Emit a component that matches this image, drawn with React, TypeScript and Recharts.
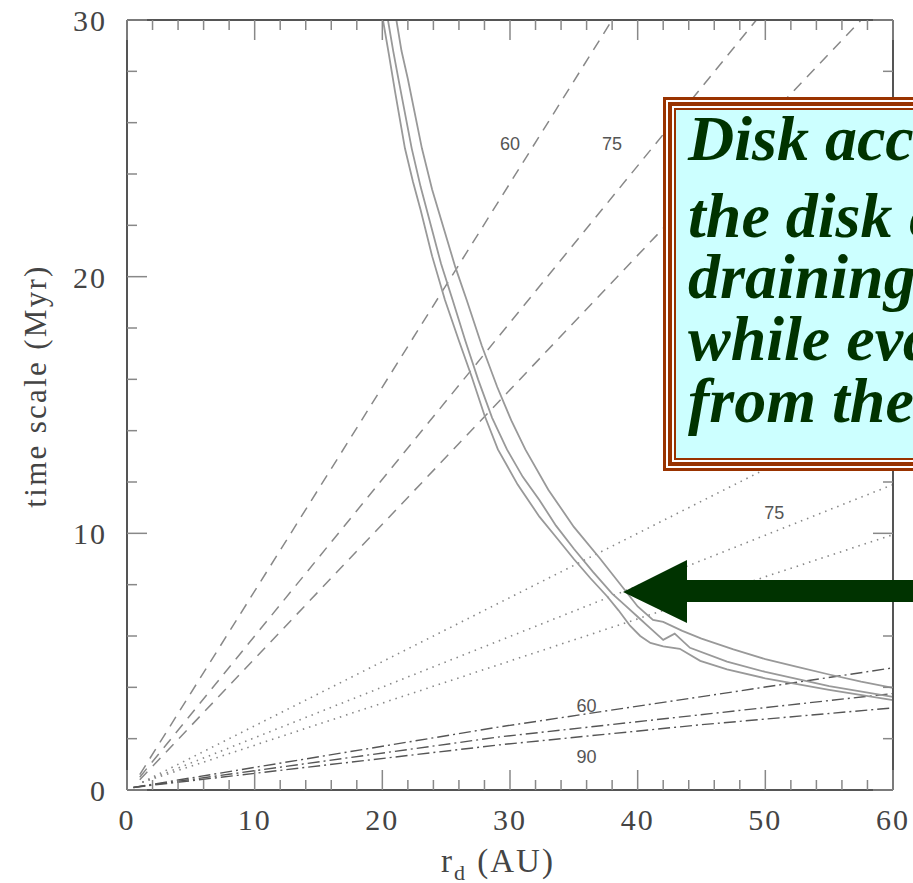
import { LineChart, Line, XAxis, YAxis, ReferenceDot } from "recharts";

// tick values (minor every 2, labelled every 10)
const xTicks = [0, 2, 4, 6, 8, 10, 12, 14, 16, 18, 20, 22, 24, 26, 28, 30, 32, 34, 36, 38, 40, 42, 44, 46, 48, 50, 52, 54, 56, 58, 60];
const yTicks = [0, 2, 4, 6, 8, 10, 12, 14, 16, 18, 20, 22, 24, 26, 28, 30];

// solid curves (r_d in AU, time scale in Myr)
const curveA = [
  { r: 20.05, t: 30 }, { r: 20.5, t: 28.7 }, { r: 21, t: 27.2 }, { r: 21.77, t: 25 }, { r: 22.4, t: 23.7 },
  { r: 23, t: 22.6 }, { r: 23.9, t: 20.8 }, { r: 24.9, t: 19.1 }, { r: 26, t: 17.5 }, { r: 27, t: 16.1 },
  { r: 28, t: 14.6 }, { r: 29.05, t: 13.27 }, { r: 30.6, t: 11.9 }, { r: 32.3, t: 10.65 }, { r: 33.7, t: 9.8 },
  { r: 35, t: 9.0 }, { r: 36.3, t: 8.25 }, { r: 37.6, t: 7.55 }, { r: 38.5, t: 7.0 }, { r: 39.4, t: 6.4 },
  { r: 40.2, t: 6.0 }, { r: 41, t: 5.73 }, { r: 42, t: 5.6 }, { r: 43.3, t: 5.5 }, { r: 44.9, t: 5.03 },
  { r: 47, t: 4.7 }, { r: 50, t: 4.35 }, { r: 55, t: 3.9 }, { r: 60, t: 3.5 },
];
const curveB = [
  { r: 20.44, t: 30 }, { r: 20.85, t: 28.8 }, { r: 21.3, t: 27.6 }, { r: 22.3, t: 25 }, { r: 23, t: 23.5 },
  { r: 23.8, t: 22.0 }, { r: 24.6, t: 20.5 }, { r: 25.5, t: 19.1 }, { r: 26.5, t: 17.5 }, { r: 27.5, t: 16.0 },
  { r: 28.6, t: 14.5 }, { r: 29.76, t: 13.27 }, { r: 31, t: 12.2 }, { r: 32.3, t: 11.3 }, { r: 33.6, t: 10.3 },
  { r: 35, t: 9.4 }, { r: 36.5, t: 8.5 }, { r: 38, t: 7.65 }, { r: 39, t: 7.2 }, { r: 40, t: 6.75 },
  { r: 41, t: 6.3 }, { r: 42, t: 5.85 }, { r: 42.9, t: 6.09 }, { r: 44.1, t: 5.54 }, { r: 47, t: 5.0 },
  { r: 50, t: 4.6 }, { r: 55, t: 4.05 }, { r: 60, t: 3.63 },
];
const curveC = [
  { r: 21.1, t: 30 }, { r: 21.5, t: 28.8 }, { r: 22, t: 27.7 }, { r: 23.1, t: 25 }, { r: 23.9, t: 23.4 },
  { r: 24.8, t: 21.9 }, { r: 25.7, t: 20.4 }, { r: 26.6, t: 19.1 }, { r: 27.8, t: 17.3 }, { r: 29, t: 15.7 },
  { r: 30.1, t: 14.4 }, { r: 31.2, t: 13.27 }, { r: 33, t: 11.7 }, { r: 35, t: 10.25 }, { r: 37, t: 9.05 },
  { r: 38.9, t: 7.85 }, { r: 40, t: 7.15 }, { r: 41.2, t: 6.63 }, { r: 42, t: 6.55 }, { r: 43.5, t: 6.2 },
  { r: 45, t: 5.9 }, { r: 47.5, t: 5.48 }, { r: 50, t: 5.1 }, { r: 52.5, t: 4.8 }, { r: 55, t: 4.5 },
  { r: 57.5, t: 4.22 }, { r: 60, t: 3.98 },
];

// dashed lines
const dashed60 = [{ r: 1, t: 0.6 }, { r: 38, t: 30 }];
const dashed75 = [{ r: 1, t: 0.5 }, { r: 49.3, t: 30 }];
const dashed90 = [{ r: 1, t: 0.4 }, { r: 57.5, t: 30 }];

// dotted lines
const dotted60 = [{ r: 1.2, t: 0.3 }, { r: 60, t: 15 }];
const dotted75 = [{ r: 1.2, t: 0.3 }, { r: 60, t: 11.9 }];
const dotted90 = [{ r: 1.2, t: 0.3 }, { r: 60, t: 9.95 }];

// dash-dot lines
const dashDot60 = [{ r: 0.5, t: 0.1 }, { r: 29.2, t: 2.46 }, { r: 44.9, t: 3.63 }, { r: 60, t: 4.76 }];
const dashDot75 = [{ r: 0.5, t: 0.1 }, { r: 29.2, t: 2.07 }, { r: 44.9, t: 2.93 }, { r: 60, t: 3.76 }];
const dashDot90 = [{ r: 0.5, t: 0.1 }, { r: 29.2, t: 1.76 }, { r: 44.9, t: 2.54 }, { r: 60, t: 3.2 }];

// inclination labels on the lines
const lineLabels = [
  { r: 30, t: 25.2, text: "60" },
  { r: 38, t: 25.2, text: "75" },
  { r: 50.7, t: 10.8, text: "75" },
  { r: 36, t: 3.28, text: "60" },
  { r: 36, t: 1.29, text: "90" },
];

const boxLines = ["Disk accretion", "the disk evolves", "draining onto", "while evaporating", "from the outside"];
const boxBaselines = [160, 237, 298, 360, 422];

const serif = "'Liberation Serif', 'Times New Roman', serif";

function InTick(props: any) {
  const { x, y, payload, side } = props;
  const v = payload.value;
  const major = v % 10 === 0;
  const len = major ? 20 : 10;
  const tickStyle = { stroke: "#888", strokeWidth: 1.5 };
  if (side === "bottom") {
    return (
      <g>
        <line x1={x} y1={y} x2={x} y2={y - len} {...tickStyle} />
        {major && (
          <text x={x} y={y + 40} textAnchor="middle" fontFamily={serif} fontSize={30} letterSpacing={2} fill="#444">
            {v}
          </text>
        )}
      </g>
    );
  }
  if (side === "top") return <line x1={x} y1={y} x2={x} y2={y + len} {...tickStyle} />;
  if (side === "left") {
    return (
      <g>
        <line x1={x} y1={y} x2={x + len} y2={y} {...tickStyle} />
        {major && (
          <text x={x - 20} y={y + 11} textAnchor="end" fontFamily={serif} fontSize={30} letterSpacing={2} fill="#444">
            {v}
          </text>
        )}
      </g>
    );
  }
  return <line x1={x} y1={y} x2={x - len} y2={y} {...tickStyle} />;
}

const axisLine = { stroke: "#555", strokeWidth: 2 };

export default function App() {
  const base = { dot: false, isAnimationActive: false, xAxisId: "b", yAxisId: "l", dataKey: "t", type: "linear" as const };
  const solid = { ...base, stroke: "#999", strokeWidth: 1.8 };
  const dashed = { ...base, stroke: "#888", strokeWidth: 1.5, strokeDasharray: "11 8" };
  const dotted = { ...base, stroke: "#888", strokeWidth: 1.6, strokeDasharray: "1.5 5" };
  const dashDot = { ...base, stroke: "#555", strokeWidth: 1.4, strokeDasharray: "12 4 2 4" };

  return (
    <div style={{ position: "absolute", left: 0, top: 0, width: 913, height: 883, overflow: "hidden", background: "#fff" }}>
      <LineChart width={913} height={883} margin={{ top: 0, right: 0, bottom: 0, left: 0 }}>
        <XAxis xAxisId="b" dataKey="r" type="number" domain={[0, 60]} ticks={xTicks} interval={0} orientation="bottom" height={93}
          tickSize={0} tickMargin={0} tickLine={false} axisLine={axisLine} allowDataOverflow tick={(p: any) => <InTick {...p} side="bottom" />} />
        <XAxis xAxisId="t" dataKey="r" type="number" domain={[0, 60]} ticks={xTicks} interval={0} orientation="top" height={20}
          tickSize={0} tickMargin={0} tickLine={false} axisLine={axisLine} allowDataOverflow tick={(p: any) => <InTick {...p} side="top" />} />
        <YAxis yAxisId="l" type="number" domain={[0, 30]} ticks={yTicks} interval={0} orientation="left" width={127}
          tickSize={0} tickMargin={0} tickLine={false} axisLine={axisLine} allowDataOverflow tick={(p: any) => <InTick {...p} side="left" />} />
        <YAxis yAxisId="r" type="number" domain={[0, 30]} ticks={yTicks} interval={0} orientation="right" width={20}
          tickSize={0} tickMargin={0} tickLine={false} axisLine={axisLine} allowDataOverflow tick={(p: any) => <InTick {...p} side="right" />} />

        <Line {...dashed} data={dashed60} />
        <Line {...dashed} data={dashed75} />
        <Line {...dashed} data={dashed90} />
        <Line {...dotted} data={dotted60} />
        <Line {...dotted} data={dotted75} />
        <Line {...dotted} data={dotted90} />
        <Line {...dashDot} data={dashDot60} />
        <Line {...dashDot} data={dashDot75} />
        <Line {...dashDot} data={dashDot90} />
        <Line {...solid} data={curveA} />
        <Line {...solid} data={curveB} />
        <Line {...solid} data={curveC} />

        {lineLabels.map((l, i) => (
          <ReferenceDot key={i} xAxisId="b" yAxisId="l" x={l.r} y={l.t} r={1} fill="none" stroke="none"
            label={{ value: l.text, position: "center", fill: "#555", fontSize: 18, fontFamily: "'Liberation Sans', Arial, sans-serif" }} />
        ))}
      </LineChart>

      <svg width={913} height={883} style={{ position: "absolute", left: 0, top: 0, pointerEvents: "none" }}>
        <text transform="translate(46 386) rotate(-90)" textAnchor="middle" fontFamily={serif} fontSize={31} letterSpacing={2.3} fill="#444">
          time scale (Myr)
        </text>
        <text x={441} y={872} fontFamily={serif} fontSize={33} letterSpacing={2} fill="#444">
          r<tspan dy={8} fontSize={22}>d</tspan><tspan dy={-8}> (AU)</tspan>
        </text>

        {/* text box */}
        <rect x={663} y={97} width={300} height={374} fill="#993300" />
        <rect x={666} y={100} width={300} height={368} fill="#ffffff" />
        <rect x={668} y={102} width={300} height={364} fill="#993300" />
        <rect x={672} y={106} width={300} height={356} fill="#ffffff" />
        <rect x={674} y={108} width={300} height={352} fill="#993300" />
        <rect x={676} y={110} width={300} height={348} fill="#ccffff" />
        {boxLines.map((s, i) => (
          <text key={i} x={688} y={boxBaselines[i]} fontFamily={serif} fontSize={64} fontWeight="bold" fontStyle="italic" fill="#003300">
            {s}
          </text>
        ))}

        {/* arrow */}
        <polygon points="623,592 687,560 687,580 920,580 920,602 687,602 687,623" fill="#003300" />
      </svg>
    </div>
  );
}
